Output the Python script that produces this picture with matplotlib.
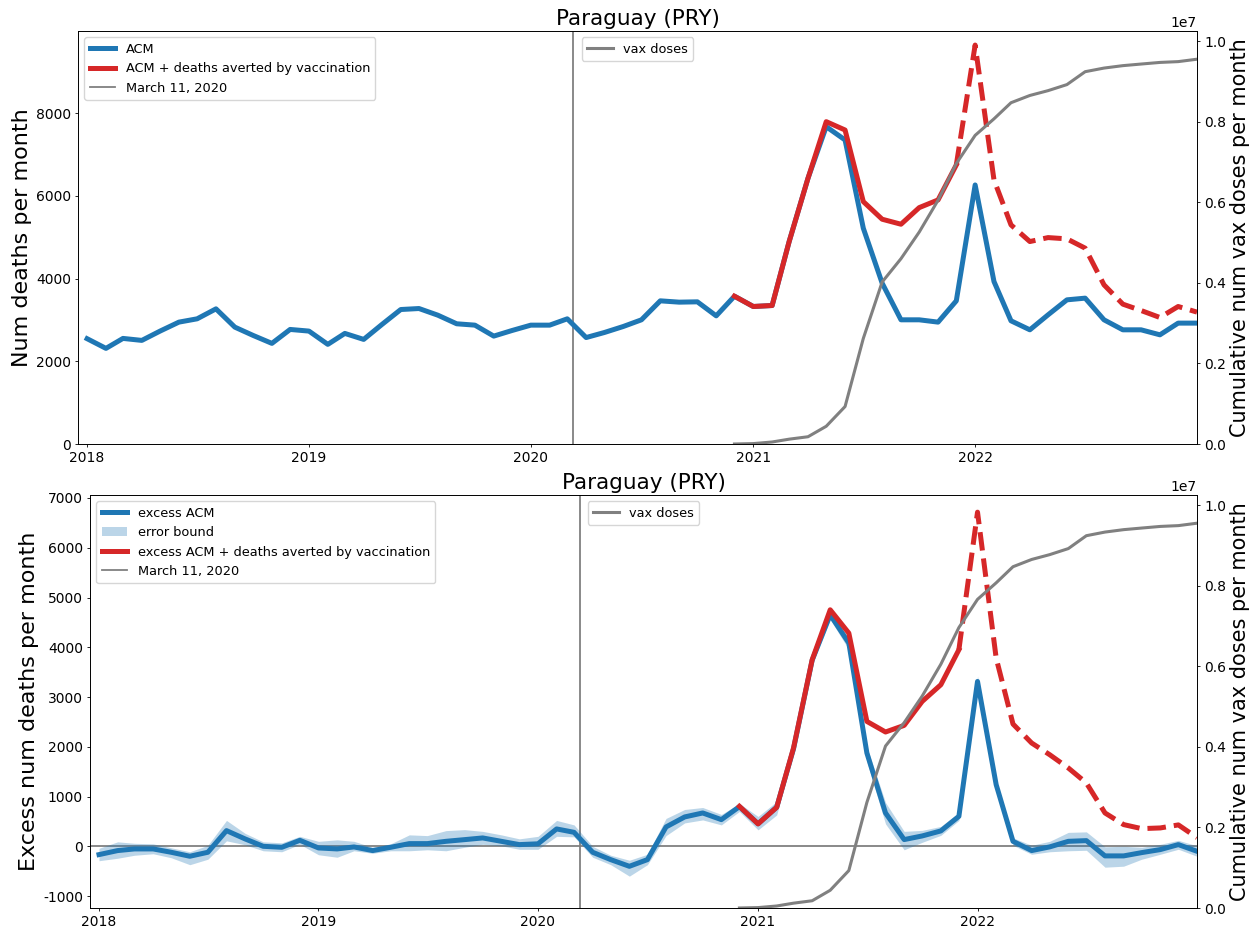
import numpy as np
import pandas as pd
import matplotlib
matplotlib.use("Agg")
import matplotlib.pyplot as plt

plt.rcParams["axes.unicode_minus"] = False
plt.rcParams["axes.linewidth"] = 0.6

# ---------------- data ----------------
dates = pd.date_range("2018-01-01", periods=61, freq="MS")
march11 = pd.Timestamp("2020-03-11")
country = "Paraguay (PRY)"

acm = [2547, 2313, 2554, 2506, 2731, 2948, 3028, 3269, 2827, 2627,
       2434, 2771, 2731, 2410, 2675, 2530, 2891, 3253, 3277, 3116,
       2908, 2875, 2610, 2745, 2875, 2875, 3028, 2575, 2697, 2842,
       3004, 3463, 3431, 3439, 3100, 3575, 3326, 3350, 4897, 6428,
       7676, 7354, 5220, 3891, 3004, 3004, 2948, 3463, 6266, 3930,
       2980, 2762, 3125, 3487, 3528, 3004, 2762, 2762, 2641, 2924, 2924]

# ACM + deaths averted by vaccination (from index 35 on)
vax_start = 35
dash_start = 47
acm_plus = [3575, 3326, 3350, 4897, 6428, 7797, 7595, 5863, 5437, 5316,
            5718, 5904, 6750, 9650, 6387, 5300, 4897, 4993, 4962, 4737,
            3850, 3383, 3229, 3060, 3326, 3190]

excess = [-167, -86, -53, -53, -120, -200, -120, 315, 148, 0,
          -20, 120, -33, -53, -13, -86, -20, 54, 54, 100,
          134, 168, 100, 34, 50, 349, 281, -120, -268, -402,
          -268, 389, 590, 670, 536, 797, 453, 787, 1960, 3740,
          4652, 4084, 1875, 670, 135, 208, 309, 602, 3313, 1239,
          100, -86, -12, 100, 114, -193, -193, -127, -66, 34, -100]

excess_lo = [-290, -240, -180, -150, -230, -370, -260, 110, 30, -90,
             -110, 40, -170, -220, -90, -140, -90, -90, -70, -90,
             -20, 40, 10, -60, -60, 200, 190, -220, -370, -600,
             -370, 215, 470, 530, 430, 700, 330, 630, 1880, 3650,
             4560, 3950, 1700, 450, -70, 80, 220, 520, 3250, 1150,
             20, -160, -110, -90, -80, -420, -400, -260, -160, -60, -200]

excess_hi = [-40, 90, 60, 50, -30, -110, 20, 520, 260, 90,
             70, 200, 100, 130, 100, -20, 50, 230, 215, 315,
             335, 300, 230, 150, 200, 520, 430, 0, -180, -280,
             -160, 560, 740, 780, 640, 860, 600, 900, 2060, 3830,
             4720, 4200, 2000, 880, 300, 320, 400, 680, 3420, 1330,
             170, 20, 100, 280, 290, -10, 0, -20, 40, 120, 10]

excess_plus = [803, 450, 783, 1976, 3749, 4753, 4284, 2510, 2297, 2430,
               2912, 3247, 3950, 6715, 3783, 2457, 2076, 1841, 1574, 1273,
               670, 436, 355, 369, 430, 175]

vax = [0, 10000, 50000, 120000, 180000, 440000, 930000, 2620000, 4020000,
       4600000, 5260000, 6050000, 6960000, 7660000, 8070000, 8470000,
       8650000, 8770000, 8920000, 9240000, 9330000, 9390000, 9430000,
       9470000, 9490000, 9550000]

year_ticks = pd.to_datetime(["2018-01-01", "2019-01-01", "2020-01-01",
                             "2021-01-01", "2022-01-01"])
year_labels = ["2018", "2019", "2020", "2021", "2022"]

# ---------------- style ----------------
BLUE = "#1f77b4"
RED = "#d62728"
GRAY = "gray"
LW = 3.6
TICK = dict(labelsize=10, length=2.5, width=0.6, pad=2.5)

fig = plt.figure(figsize=(12.6, 9.33), dpi=100)

W, H = 1260, 933
def pos(l, r, t, b):
    return [l / W, 1 - b / H, (r - l) / W, (b - t) / H]

vdates = dates[vax_start:]
xlim = (pd.Timestamp("2017-12-17"), dates[-1])


def draw_panel(ax, main, plus, ylabel, labels, band=None, zero=False):
    ax.plot(dates, main, color=BLUE, lw=LW, label=labels[0], zorder=3)
    if band is not None:
        ax.fill_between(dates, band[0], band[1], color=BLUE, alpha=0.3,
                        lw=0, label="error bound", zorder=2)
    solid_n = dash_start - vax_start + 1
    ax.plot(vdates[:solid_n], plus[:solid_n], color=RED, lw=LW,
            label=labels[1], zorder=4)
    ax.plot(vdates[solid_n - 1:], plus[solid_n - 1:], color=RED, lw=LW,
            ls="--", zorder=4)
    ax.axvline(march11, color=GRAY, lw=1.3, label="March 11, 2020", zorder=1)
    if zero:
        ax.axhline(0, color=GRAY, lw=1.3, zorder=1)
    ax.set_xlim(*xlim)
    ax.set_xticks(year_ticks)
    ax.set_xticklabels(year_labels)
    ax.tick_params(**TICK)
    ax.set_ylabel(ylabel, fontsize=16, labelpad=2.9)
    ax.set_title(country, fontsize=15.5, pad=4)
    ax.legend(loc="upper left", fontsize=9.3)

    ax2 = ax.twinx()
    ax2.plot(vdates, vax, color=GRAY, lw=2.2, label="vax doses")
    ax2.set_ylim(0, 1.025e7)
    ax2.set_ylabel("Cumulative num vax doses per month", fontsize=15,
                   labelpad=2.9)
    ax2.tick_params(**TICK)
    ax2.legend(loc="upper center", fontsize=9.3)
    ax2.set_xlim(*xlim)
    return ax2

ax1 = fig.add_axes(pos(78, 1197, 31, 444))
draw_panel(ax1, acm, acm_plus, "Num deaths per month",
           ["ACM", "ACM + deaths averted by vaccination"])
ax1.set_ylim(0, 9990)

ax3 = fig.add_axes(pos(90, 1197, 495, 908))
draw_panel(ax3, excess, excess_plus, "Excess num deaths per month",
           ["excess ACM", "excess ACM + deaths averted by vaccination"],
           band=(excess_lo, excess_hi), zero=True)
ax3.set_ylim(-1240, 7060)

fig.savefig("out.png", dpi=100)
